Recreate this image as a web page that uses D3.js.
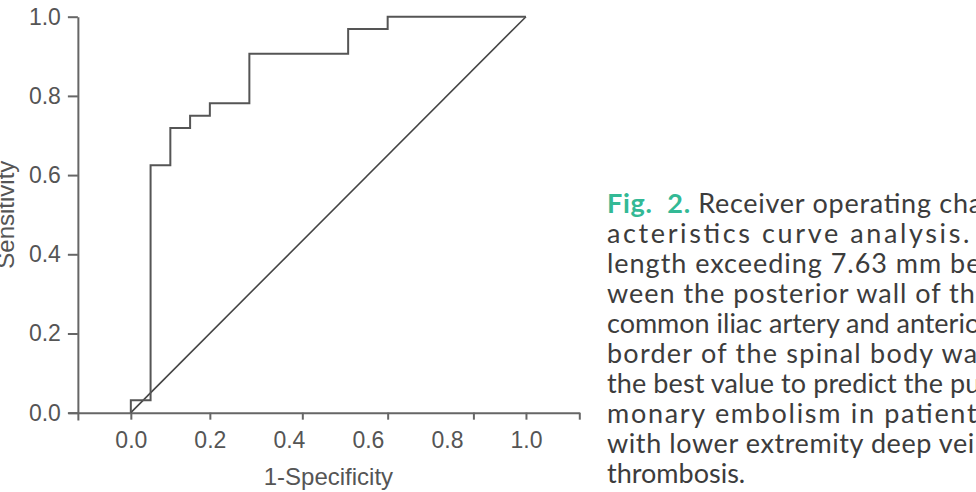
<!DOCTYPE html>
<html>
<head>
<meta charset="utf-8">
<script src="https://cdn.jsdelivr.net/npm/d3@7"></script>
<style>
	body { margin: 0; background: #fff; }
	#chart { display: block; }
	.tick text { font-family: "Liberation Sans", Arial, sans-serif; font-size: 23px; fill: #555; }
	.caption { font-family: Lato, sans-serif; font-size: 27px; fill: #3c3c3c; }
</style>
</head>
<body>
<svg id="chart" width="976" height="492"></svg>
<script>
	// ROC curve (1-specificity, sensitivity), 20 negatives / 32 positives
	const fpr = [0, 0, 0.05, 0.05, 0.10, 0.10, 0.15, 0.15, 0.20, 0.20, 0.30, 0.30, 0.55, 0.55, 0.65, 0.65, 1.0];
	const tpr = [0, 0.03125, 0.03125, 0.625, 0.625, 0.71875, 0.71875, 0.75, 0.75, 0.78125, 0.78125, 0.90625, 0.90625, 0.96875, 0.96875, 1.0, 1.0];
	const refLine = [[0, 0], [1, 1]];
	const xLabels = [0, 0.2, 0.4, 0.6, 0.8, 1.0];
	const xTickMarks = [0, 0.2, 0.434, 0.65, 0.867, 1.0, 1.135];
	const yLabels = [0, 0.2, 0.4, 0.6, 0.8, 1.0];
	const captionLines = [
		'Receiver operating char-',
		'acteristics curve analysis. The',
		'length exceeding 7.63 mm bet-',
		'ween the posterior wall of the',
		'common iliac artery and anterior',
		'border of the spinal body was',
		'the best value to predict the pul-',
		'monary embolism in patients',
		'with lower extremity deep vein',
		'thrombosis.'
	];
	// justified width of each caption line (last line is left ragged)
	const captionWidths = [396, 424, 395, 383, 383, 383, 390, 383, 383, null];

	const svg = d3.select('#chart');
	const axisColor = '#666';

	const x = d3.scaleLinear().domain([-0.159, 1.135]).range([68, 579.3]);
	const y = d3.scaleLinear().domain([-0.0185, 1]).range([420, 16.7]);

	// x axis: tick marks and labels are not at the same places in the original
	svg.append('g').attr('transform', `translate(0,${y(0)})`)
		.call(d3.axisBottom(x).tickValues(xTickMarks).tickFormat('').tickSize(7).tickSizeOuter(0));
	const gxl = svg.append('g').attr('transform', `translate(0,${y(0)})`)
		.call(d3.axisBottom(x).tickValues(xLabels).tickFormat(d3.format('.1f')).tickSize(0).tickPadding(19));
	gxl.select('.domain').remove();

	svg.append('g').attr('transform', `translate(${x(-0.134)},0)`)
		.call(d3.axisLeft(y).tickValues(yLabels).tickFormat(d3.format('.1f')).tickSize(10).tickPadding(7).tickSizeOuter(0));

	svg.selectAll('.domain, .tick line').attr('stroke', axisColor).attr('stroke-width', 2);

	svg.append('text')
		.attr('x', x(0.5)).attr('y', 485)
		.attr('text-anchor', 'middle')
		.style('font-family', '"Liberation Sans", Arial, sans-serif')
		.style('font-size', '24px').style('fill', '#555')
		.text('1-Specificity');

	svg.append('text')
		.attr('transform', `translate(14,${y(0.5)}) rotate(-90)`)
		.attr('text-anchor', 'middle')
		.style('font-family', '"Liberation Sans", Arial, sans-serif')
		.style('font-size', '24px').style('fill', '#555')
		.text('Sensitivity');

	// reference diagonal
	svg.append('path')
		.attr('d', d3.line().x(d => x(d[0])).y(d => y(d[1]))(refLine))
		.attr('fill', 'none').attr('stroke', '#444').attr('stroke-width', 1.6);

	// ROC step curve
	const line = d3.line().x((d, i) => x(fpr[i])).y((d, i) => y(tpr[i]));
	svg.append('path')
		.attr('d', line(fpr))
		.attr('fill', 'none').attr('stroke', '#555').attr('stroke-width', 2);

	// caption, justified lines run past the right edge like the source page
	const cap = svg.append('g').attr('class', 'caption');
	captionLines.forEach((txt, i) => {
		const t = cap.append('text').attr('x', 607).attr('y', 213 + i * 30);
		if (i === 0) {
			t.append('tspan').style('fill', '#33b995').style('font-weight', 700).text('Fig.\u00a0\u00a02.\u00a0');
		}
		t.append('tspan').text(txt);
		if (captionWidths[i]) {
			t.attr('textLength', captionWidths[i]).attr('lengthAdjust', 'spacing');
		}
	});
</script>
</body>
</html>
